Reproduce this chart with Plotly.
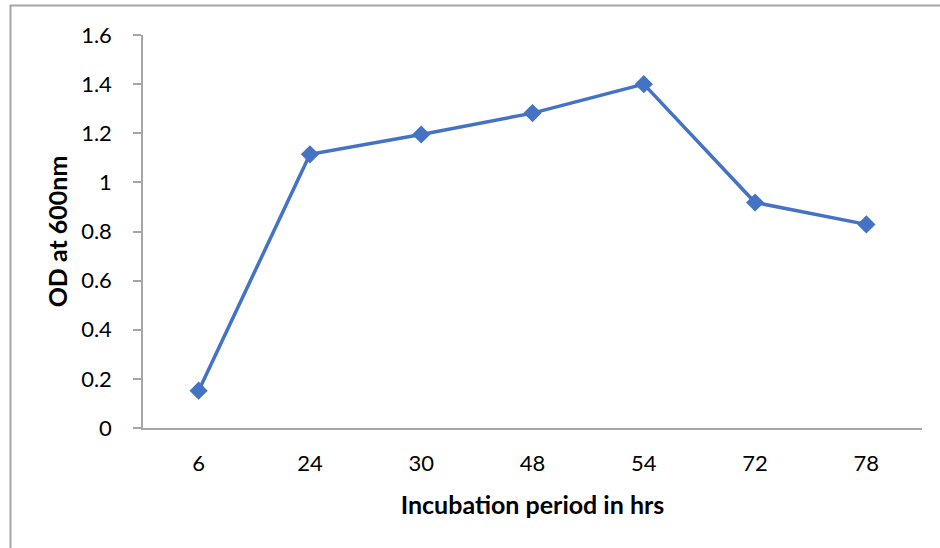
import plotly.graph_objects as go

hours = ["6", "24", "30", "48", "54", "72", "78"]
od600 = [0.152, 1.114, 1.195, 1.282, 1.40, 0.918, 0.829]
y_ticks = [0, 0.2, 0.4, 0.6, 0.8, 1, 1.2, 1.4, 1.6]
y_ticklabels = ["0", "0.2", "0.4", "0.6", "0.8", "1", "1.2", "1.4", "1.6"]

W, H = 940, 548
L, R, T, B = 143, 18, 35, 120
pw, ph = W - L - R, H - T - B

def px_x(p):
    return (p - L) / pw

def px_y(p):
    return (H - B - p) / ph

font = "Lato, Open Sans, sans-serif"

fig = go.Figure(go.Scatter(
    x=hours, y=od600, mode="lines+markers",
    line=dict(color="#4472C4", width=3.5),
    marker=dict(symbol="diamond", size=14, color="#4472C4"),
    cliponaxis=False,
))

fig.update_layout(
    width=W, height=H,
    margin=dict(l=L, r=R, t=T, b=B),
    paper_bgcolor="white", plot_bgcolor="white",
    showlegend=False,
    font=dict(family=font, size=22, color="black"),
    xaxis=dict(
        type="category", range=[-0.5, len(hours) - 0.5],
        showgrid=False, showline=True, linecolor="#a6a6a6", linewidth=1.5,
        ticks="", tickfont=dict(size=22), ticklabelstandoff=15,
        title=dict(text="<b>Incubation period in hrs</b>", font=dict(size=25), standoff=21),
        zeroline=False,
    ),
    yaxis=dict(
        range=[0, 1.6], tickvals=y_ticks, ticktext=y_ticklabels, showgrid=False,
        showline=True, linecolor="#a6a6a6", linewidth=1.5, ticks="outside",
        ticklen=8, tickcolor="#a6a6a6", tickwidth=1.5, ticklabelstandoff=17,
        tickfont=dict(size=22),
        title=dict(text="<b>OD at 600nm</b>", font=dict(size=25), standoff=6),
        zeroline=False,
    ),
    shapes=[
        dict(type="line", xref="paper", yref="paper", x0=px_x(10), x1=px_x(W + 5),
             y0=px_y(5.5), y1=px_y(5.5), line=dict(color="#a6a6a6", width=2)),
        dict(type="line", xref="paper", yref="paper", x0=px_x(10.5), x1=px_x(10.5),
             y0=px_y(5), y1=px_y(H + 5), line=dict(color="#a6a6a6", width=2)),
    ],
)

fig.write_html("out.html", config={"displayModeBar": False},
               post_script="document.body.style.margin='0';")
